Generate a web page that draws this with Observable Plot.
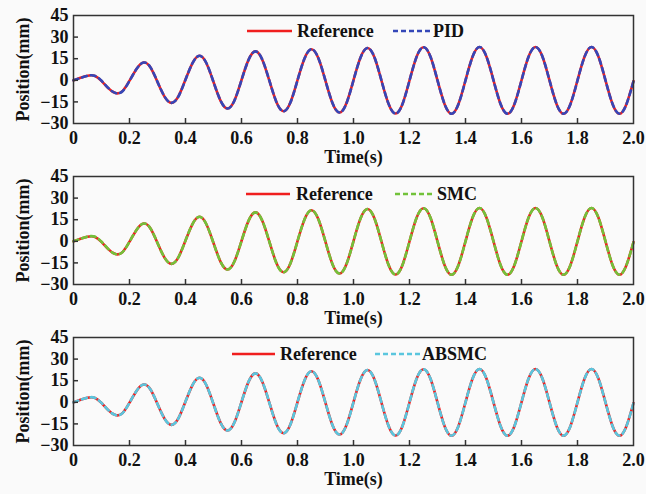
<!DOCTYPE html>
<html><head><meta charset="utf-8">
<script src="https://cdn.jsdelivr.net/npm/d3@7"></script>
<script src="https://cdn.jsdelivr.net/npm/@observablehq/plot@0.6"></script>
<style>
html,body{margin:0;background:#fafafa;}
#chart{width:646px;height:494px;overflow:visible;}
#chart svg{display:block;margin-bottom:-6px;}
#chart svg:last-child{margin-bottom:0;}
</style></head><body><div id="chart"></div>
<script>
const time = [0,0.025,0.05,0.075,0.1,0.125,0.15,0.175,0.2,0.225,0.25,0.275,0.3,0.325,0.35,0.375,0.4,0.425,0.45,0.475,0.5,0.525,0.55,0.575,0.6,0.625,0.65,0.675,0.7,0.725,0.75,0.775,0.8,0.825,0.85,0.875,0.9,0.925,0.95,0.975,1.0,1.025,1.05,1.075,1.1,1.125,1.15,1.175,1.2,1.225,1.25,1.275,1.3,1.325,1.35,1.375,1.4,1.425,1.45,1.475,1.5,1.525,1.55,1.575,1.6,1.625,1.65,1.675,1.7,1.725,1.75,1.775,1.8,1.825,1.85,1.875,1.9,1.925,1.95,1.975,2.0];
const reference = [0,1.7,3.2,3.2,-0.4,-5.6,-8.9,-7.5,-0.3,7.9,12.3,8.9,-1.2,-11.3,-15.7,-11.0,0.5,12.0,17.0,11.7,-1.2,-14.1,-19.6,-13.9,0.2,14.2,20.1,14.0,-0.6,-15.3,-21.5,-15.2,0.1,15.2,21.6,15.1,-0.4,-15.9,-22.4,-15.8,0.1,15.8,22.4,15.8,-0.3,-16.3,-23.1,-16.4,-0.1,16.2,23.0,16.3,-0.1,-16.4,-23.2,-16.4,0,16.3,23.1,16.3,-0.1,-16.4,-23.2,-16.4,0,16.3,23.1,16.3,-0.1,-16.4,-23.2,-16.4,0,16.3,23.1,16.3,-0.1,-16.4,-23.2,-16.4,-0.5];
const pid = [0,1.6,3.1,3.2,-0.3,-5.5,-8.9,-7.6,-0.4,7.8,12.3,9.0,-1.1,-11.2,-15.7,-11.1,0.4,11.9,17.0,11.8,-1.1,-14.0,-19.6,-14.0,0.1,14.1,20.1,14.1,-0.5,-15.2,-21.5,-15.3,0,15.1,21.6,15.2,-0.3,-15.8,-22.4,-15.9,0,15.7,22.4,15.9,-0.2,-16.2,-23.1,-16.5,-0.2,16.1,23.0,16.4,0,-16.3,-23.2,-16.5,-0.1,16.2,23.1,16.4,0,-16.3,-23.2,-16.5,-0.1,16.2,23.1,16.4,0,-16.3,-23.2,-16.5,-0.1,16.2,23.1,16.4,0,-16.3,-23.2,-16.5,-0.6];
const smc = [0,1.7,3.2,3.3,-0.3,-5.5,-8.9,-7.5,-0.3,7.9,12.3,8.9,-1.2,-11.3,-15.7,-11.0,0.5,12.0,17.0,11.7,-1.2,-14.1,-19.6,-13.9,0.2,14.2,20.1,14.0,-0.6,-15.3,-21.5,-15.2,0.1,15.2,21.6,15.1,-0.4,-15.9,-22.4,-15.8,0.1,15.8,22.4,15.8,-0.3,-16.3,-23.1,-16.4,-0.1,16.2,23.0,16.3,-0.1,-16.4,-23.2,-16.4,0,16.3,23.1,16.3,-0.1,-16.4,-23.2,-16.4,0,16.3,23.1,16.3,-0.1,-16.4,-23.2,-16.4,0,16.3,23.1,16.3,-0.1,-16.4,-23.2,-16.4,-0.5];
const absmc = [0,1.7,3.2,3.2,-0.4,-5.6,-8.9,-7.5,-0.3,7.9,12.3,8.9,-1.2,-11.3,-15.7,-11.0,0.5,12.0,17.0,11.7,-1.2,-14.1,-19.6,-13.9,0.2,14.2,20.1,14.0,-0.6,-15.3,-21.5,-15.2,0.1,15.2,21.6,15.1,-0.4,-15.9,-22.4,-15.8,0.1,15.8,22.4,15.8,-0.3,-16.3,-23.1,-16.4,-0.1,16.2,23.0,16.3,-0.1,-16.4,-23.2,-16.4,0,16.3,23.1,16.3,-0.1,-16.4,-23.2,-16.4,0,16.3,23.1,16.3,-0.1,-16.4,-23.2,-16.4,0,16.3,23.1,16.3,-0.1,-16.4,-23.2,-16.4,-0.5];
const xTicks = [0,0.2,0.4,0.6,0.8,1.0,1.2,1.4,1.6,1.8,2.0];
const xTickLabels = ["0","0.2","0.4","0.6","0.8","1.0","1.2","1.4","1.6","1.8","2.0"];
const yTicks = [-30,-15,0,15,30,45];
const referenceName = "Reference";
const controllerNames = ["PID","SMC","ABSMC"];

const FONT = "'Liberation Serif','Times New Roman',serif";
const RED = "#f01e1e";
const panels = [
  {name: controllerNames[0], values: pid,   color: "#3447b8", leg: {r0:247, r1:292, t0:297, d0:393, d1:430, t1:433, y:31}},
  {name: controllerNames[1], values: smc,   color: "#72c23a", leg: {r0:246, r1:290, t0:296, d0:395, d1:433, t1:437, y:33}},
  {name: controllerNames[2], values: absmc, color: "#5ac6de", leg: {r0:232, r1:275, t0:280, d0:375, d1:420, t1:422, y:32}}
];

const root = document.getElementById("chart");
for (const p of panels) {
  const rows = time.map((t, i) => ({t, ref: reference[i], ctl: p.values[i]}));
  const chart = Plot.plot({
    width: 646, height: 167,
    marginTop: 15, marginBottom: 44, marginLeft: 73, marginRight: 13,
    style: {background: "transparent", fontFamily: FONT, fontWeight: "bold", fontSize: "18px", color: "#111"},
    x: {domain: [0, 2]},
    y: {domain: [-30, 45]},
    marks: [
      Plot.line(rows, {x: "t", y: "ref", stroke: RED, strokeWidth: 2.6, curve: "natural"}),
      Plot.line(rows, {x: "t", y: "ctl", stroke: p.color, strokeWidth: 2.6, strokeDasharray: "5,4", curve: "natural"}),
      Plot.tickX(xTicks.slice(1, -1), {x: d => d, stroke: "#333", strokeWidth: 1.5, insetTop: 103}),
      Plot.tickY(yTicks.slice(1, -1), {y: d => d, stroke: "#333", strokeWidth: 1.5, insetRight: 555}),
      Plot.axisX({ticks: xTicks, tickFormat: d => xTickLabels[xTicks.findIndex(v => Math.abs(v - d) < 1e-9)],
        tickSize: 0, tickPadding: 8, label: "Time(s)", labelAnchor: "center", labelArrow: "none", labelOffset: 39,
        fontSize: 18, fontWeight: "bold", fill: "#111"}),
      Plot.axisY({ticks: yTicks, tickSize: 0, tickPadding: 5, label: "Position(mm)", labelAnchor: "center", labelArrow: "none", labelOffset: 57,
        fontSize: 18, fontWeight: "bold", fill: "#111"}),
      Plot.frame({stroke: "#333", strokeWidth: 1.5})
    ]
  });
  const L = p.leg;
  const g = d3.select(chart).append("g").attr("font-family", FONT).attr("font-weight", "bold").attr("font-size", 18)
    .attr("fill", "#111").attr("text-anchor", "start");
  g.append("line").attr("x1", L.r0).attr("x2", L.r1).attr("y1", L.y).attr("y2", L.y).attr("stroke", RED).attr("stroke-width", 2.6);
  g.append("text").attr("x", L.t0).attr("y", L.y).attr("dy", "0.35em").text(referenceName);
  g.append("line").attr("x1", L.d0).attr("x2", L.d1).attr("y1", L.y).attr("y2", L.y).attr("stroke", p.color).attr("stroke-width", 2.6).attr("stroke-dasharray", "5,3");
  g.append("text").attr("x", L.t1).attr("y", L.y).attr("dy", "0.35em").text(p.name);
  root.appendChild(chart);
}
</script></body></html>
